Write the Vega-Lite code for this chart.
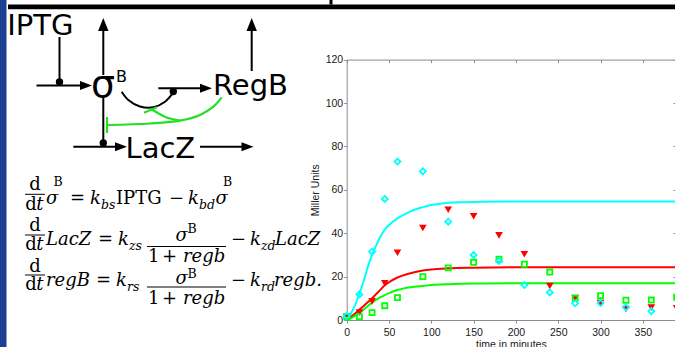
{
  "$schema": "https://vega.github.io/schema/vega-lite/v6.json",
  "width": 675,
  "height": 347,
  "autosize": {"type": "none"},
  "padding": 0,
  "background": "#ffffff",
  "config": {"view": {"stroke": null}, "axis": {"grid": false}},
  "datasets": {
    "curves": [
      {"series":"s1","t":0,"v":0},{"series":"s1","t":5,"v":3},{"series":"s1","t":10,"v":7},{"series":"s1","t":15,"v":12},{"series":"s1","t":20,"v":18},{"series":"s1","t":25,"v":24.5},{"series":"s1","t":30,"v":30},{"series":"s1","t":35,"v":34.5},{"series":"s1","t":40,"v":38.5},{"series":"s1","t":45,"v":41.7},{"series":"s1","t":50,"v":43.8},{"series":"s1","t":60,"v":46.8},{"series":"s1","t":70,"v":49},{"series":"s1","t":80,"v":50.8},{"series":"s1","t":90,"v":52},{"series":"s1","t":100,"v":53},{"series":"s1","t":110,"v":53.6},{"series":"s1","t":120,"v":54},{"series":"s1","t":140,"v":54.3},{"series":"s1","t":160,"v":54.5},{"series":"s1","t":200,"v":54.6},{"series":"s1","t":390,"v":54.6},
      {"series":"s2","t":0,"v":0},{"series":"s2","t":5,"v":1.4},{"series":"s2","t":10,"v":3},{"series":"s2","t":15,"v":4.8},{"series":"s2","t":20,"v":6.5},{"series":"s2","t":30,"v":10},{"series":"s2","t":40,"v":14},{"series":"s2","t":45,"v":16},{"series":"s2","t":50,"v":17.4},{"series":"s2","t":60,"v":19.6},{"series":"s2","t":70,"v":21},{"series":"s2","t":80,"v":22},{"series":"s2","t":90,"v":22.8},{"series":"s2","t":100,"v":23.3},{"series":"s2","t":120,"v":23.8},{"series":"s2","t":150,"v":24.1},{"series":"s2","t":200,"v":24.3},{"series":"s2","t":390,"v":24.3},
      {"series":"s3","t":0,"v":0},{"series":"s3","t":5,"v":0.8},{"series":"s3","t":10,"v":2},{"series":"s3","t":15,"v":3.3},{"series":"s3","t":20,"v":4.8},{"series":"s3","t":30,"v":8},{"series":"s3","t":40,"v":10.5},{"series":"s3","t":45,"v":11.5},{"series":"s3","t":50,"v":12.4},{"series":"s3","t":60,"v":13.8},{"series":"s3","t":70,"v":14.8},{"series":"s3","t":80,"v":15.3},{"series":"s3","t":90,"v":15.7},{"series":"s3","t":100,"v":16.1},{"series":"s3","t":120,"v":16.5},{"series":"s3","t":150,"v":16.8},{"series":"s3","t":200,"v":16.9},{"series":"s3","t":390,"v":16.9}
    ],
    "points": [
      {"series":"s1","t":0,"v":2},{"series":"s1","t":15,"v":11.8},{"series":"s1","t":30,"v":31.5},{"series":"s1","t":45,"v":55.8},{"series":"s1","t":60,"v":73},{"series":"s1","t":90,"v":68.5},{"series":"s1","t":120,"v":45.3},{"series":"s1","t":150,"v":30},{"series":"s1","t":180,"v":27.2},{"series":"s1","t":210,"v":16.1},{"series":"s1","t":240,"v":12.7},{"series":"s1","t":270,"v":7.7},{"series":"s1","t":300,"v":7.8},{"series":"s1","t":330,"v":5.8},{"series":"s1","t":360,"v":4.1},
      {"series":"s2","t":0,"v":1.5},{"series":"s2","t":15,"v":3.4},{"series":"s2","t":30,"v":8.6},{"series":"s2","t":45,"v":16.9},{"series":"s2","t":60,"v":31},{"series":"s2","t":90,"v":42.4},{"series":"s2","t":120,"v":50.8},{"series":"s2","t":150,"v":47.8},{"series":"s2","t":180,"v":39},{"series":"s2","t":210,"v":30.3},{"series":"s2","t":240,"v":15.7},{"series":"s2","t":270,"v":10.1},{"series":"s2","t":300,"v":7.8},{"series":"s2","t":330,"v":5.1},{"series":"s2","t":360,"v":5.7},{"series":"s2","t":390,"v":5.4},
      {"series":"s3","t":0,"v":1.5},{"series":"s3","t":15,"v":1.5},{"series":"s3","t":30,"v":3.4},{"series":"s3","t":45,"v":6.6},{"series":"s3","t":60,"v":10.3},{"series":"s3","t":90,"v":20},{"series":"s3","t":120,"v":24},{"series":"s3","t":150,"v":26.6},{"series":"s3","t":180,"v":28},{"series":"s3","t":210,"v":25.7},{"series":"s3","t":240,"v":22.1},{"series":"s3","t":270,"v":10.1},{"series":"s3","t":300,"v":11.2},{"series":"s3","t":330,"v":9.1},{"series":"s3","t":360,"v":9.2},{"series":"s3","t":390,"v":10.5}
    ],
    "decor_blue": [{"x":0,"x2":6.5,"y":0,"y2":347}],
    "decor_black": [{"x":8,"x2":675,"y":4.5,"y2":9.3},{"x":329.5,"x2":332.5,"y":0,"y2":4.5}],
    "links": [
      {"x":59.5,"y":37,"x2":59.5,"y2":82},
      {"x":36.5,"y":85.5,"x2":84,"y2":85.5},
      {"x":103.3,"y":75,"x2":103.3,"y2":28},
      {"x":103.3,"y":98,"x2":103.3,"y2":143},
      {"x":73.3,"y":146.7,"x2":118,"y2":146.7},
      {"x":200,"y":146.7,"x2":245,"y2":146.7},
      {"x":158.3,"y":88.3,"x2":203,"y2":88.3},
      {"x":251.7,"y":71,"x2":251.7,"y2":28}
    ],
    "heads_right": [{"x":92,"y":85.5},{"x":127,"y":146.7},{"x":253.5,"y":146.7},{"x":212,"y":88.3}],
    "heads_up": [{"x":103.3,"y":18},{"x":251.7,"y":18}],
    "dots": [{"x":59.5,"y":82},{"x":103.3,"y":143},{"x":173.3,"y":91.5}],
    "black_curve": [
      {"id":"c1","i":0,"x":121.7,"y":91.7},{"id":"c1","i":1,"x":128.3,"y":100},{"id":"c1","i":2,"x":140,"y":106.5},{"id":"c1","i":3,"x":153.3,"y":107.3},{"id":"c1","i":4,"x":165,"y":101.7},{"id":"c1","i":5,"x":173.3,"y":92.7}
    ],
    "green_curves": [
      {"id":"g1","i":0,"x":221.7,"y":97.3},{"id":"g1","i":1,"x":213.3,"y":106.7},{"id":"g1","i":2,"x":200,"y":115},{"id":"g1","i":3,"x":180,"y":120.7},{"id":"g1","i":4,"x":150,"y":123.5},{"id":"g1","i":5,"x":107,"y":125},
      {"id":"g2","i":0,"x":180,"y":120.7},{"id":"g2","i":1,"x":166.7,"y":117.5},{"id":"g2","i":2,"x":157,"y":112.5},{"id":"g2","i":3,"x":151,"y":109}
    ],
    "green_bars": [{"x":107,"y":117,"x2":107,"y2":133},{"x":144,"y":112.7,"x2":156.7,"y2":107.3}],
    "labels_sans": [{"x":7.2,"y":35,"text":"IPTG"},{"x":213,"y":95,"text":"RegB"},{"x":125.5,"y":158,"text":"LacZ"}],
    "labels_sigma": [{"x":91,"y":97,"text":"σ"}],
    "labels_sup_sans": [{"x":116,"y":82,"text":"B"}],
    "eq_roman": [
      {"text":"d","x":29.3,"y":190},{"text":"d","x":25.3,"y":210},{"text":"=","x":70,"y":204.3},{"text":"IPTG","x":116,"y":204.3},{"text":"−","x":169,"y":204.3},
      {"text":"d","x":29.3,"y":230.5},{"text":"d","x":25.3,"y":250},{"text":"=","x":98,"y":245},{"text":"1","x":148,"y":261.5},{"text":"+","x":162,"y":261.5},{"text":"−","x":231,"y":245},
      {"text":"d","x":29.3,"y":271.5},{"text":"d","x":25.3,"y":290},{"text":"=","x":96,"y":286},{"text":"1","x":148,"y":303.5},{"text":"+","x":162,"y":303.5},{"text":"−","x":231,"y":286}
    ],
    "eq_italic": [
      {"text":"t","x":36.3,"y":210},{"text":"σ","x":46,"y":204.3},{"text":"k","x":90,"y":204.3},{"text":"k","x":188,"y":204.3},{"text":"σ","x":215.5,"y":204.3},
      {"text":"t","x":36.3,"y":250},{"text":"LacZ","x":46,"y":245},{"text":"k","x":118,"y":245},{"text":"σ","x":175.4,"y":241},{"text":"regb","x":183,"y":261.5},{"text":"k","x":250,"y":245},{"text":"LacZ","x":275,"y":245},
      {"text":"t","x":36.3,"y":290},{"text":"regB","x":46,"y":286},{"text":"k","x":116,"y":286},{"text":"σ","x":175.4,"y":283.5},{"text":"regb","x":183,"y":303.5},{"text":"k","x":250,"y":286},{"text":"regb.","x":274,"y":286}
    ],
    "eq_sup": [{"text":"B","x":53.5,"y":186},{"text":"B","x":223,"y":186},{"text":"B","x":187.5,"y":233},{"text":"B","x":187.5,"y":278}],
    "eq_sub": [{"text":"bs","x":101,"y":208.5},{"text":"bd","x":199,"y":208.5},{"text":"zs","x":129,"y":249.5},{"text":"zd","x":261,"y":249.5},{"text":"rs","x":127,"y":290.5},{"text":"rd","x":261,"y":290.5}],
    "eq_bars": [{"x":25,"x2":45,"y":194.3,"y2":194.3},{"x":25,"x2":45,"y":235,"y2":235},{"x":147,"x2":226,"y":246.5,"y2":246.5},{"x":25,"x2":45,"y":275,"y2":275},{"x":147,"x2":226,"y":287,"y2":287}]
  },
  "layer": [
    {
      "layer": [
        {
          "data": {"name": "curves"},
          "mark": {"type": "line", "strokeWidth": 2, "interpolate": "monotone"},
          "encoding": {
            "x": {"field": "t", "type": "quantitative", "scale": {"domain": [0, 388], "range": [346.7, 675], "nice": false, "zero": false},
              "axis": {"orient": "bottom", "offset": -27, "values": [0,50,100,150,200,250,300,350], "tickSize": 3, "labelPadding": 4, "labelFont": "Liberation Sans", "labelFontSize": 10.5, "labelColor": "#1a1a1a", "domainColor": "#8c8c8c", "tickColor": "#8c8c8c", "labelFlush": false, "labelOverlap": false, "title": "time in minutes", "titleFont": "Liberation Sans", "titleFontSize": 10.5, "titleFontWeight": "normal", "titleColor": "#1a1a1a", "titlePadding": 2}},
            "y": {"field": "v", "type": "quantitative", "scale": {"domain": [0, 120], "range": [320, 59.6], "nice": false, "zero": false},
              "axis": {"orient": "left", "offset": -346.7, "values": [0,20,40,60,80,100,120], "tickSize": 3, "labelPadding": 1, "labelFont": "Liberation Sans", "labelFontSize": 10.5, "labelColor": "#1a1a1a", "domainColor": "#8c8c8c", "tickColor": "#8c8c8c", "labelFlush": false, "labelOverlap": false, "minExtent": 0, "title": "Miller Units", "titleFont": "Liberation Sans", "titleFontSize": 10.5, "titleFontWeight": "normal", "titleColor": "#1a1a1a", "titlePadding": 5}},
            "color": {"field": "series", "type": "nominal", "scale": {"domain": ["s1","s2","s3"], "range": ["#00ffff","#ff0000","#00ff00"]}, "legend": null}
          }
        },
        {
          "data": {"name": "points"},
          "transform": [{"filter": "datum.series === 's2'"}],
          "mark": {"type": "point", "shape": "triangle-down", "filled": true, "color": "#ff0000", "size": 58, "opacity": 1},
          "encoding": {
            "x": {"field": "t", "type": "quantitative", "scale": {"domain": [0, 388], "range": [346.7, 675], "nice": false, "zero": false}, "axis": null},
            "y": {"field": "v", "type": "quantitative", "scale": {"domain": [0, 120], "range": [320, 59.6], "nice": false, "zero": false}, "axis": null}
          }
        },
        {
          "data": {"name": "points"},
          "transform": [{"filter": "datum.series === 's3'"}],
          "mark": {"type": "point", "shape": "square", "filled": false, "color": "#00ff00", "strokeWidth": 1.8, "size": 26, "opacity": 1},
          "encoding": {
            "x": {"field": "t", "type": "quantitative", "scale": {"domain": [0, 388], "range": [346.7, 675], "nice": false, "zero": false}, "axis": null},
            "y": {"field": "v", "type": "quantitative", "scale": {"domain": [0, 120], "range": [320, 59.6], "nice": false, "zero": false}, "axis": null}
          }
        },
        {
          "data": {"name": "points"},
          "transform": [{"filter": "datum.series === 's1'"}],
          "mark": {"type": "point", "shape": "diamond", "filled": false, "color": "#00ffff", "strokeWidth": 1.8, "size": 36, "opacity": 1},
          "encoding": {
            "x": {"field": "t", "type": "quantitative", "scale": {"domain": [0, 388], "range": [346.7, 675], "nice": false, "zero": false},
              "axis": {"orient": "top", "offset": -59.6, "values": [0,50,100,150,200,250,300,350], "tickSize": -3, "labels": false, "title": null, "domainColor": "#8c8c8c", "tickColor": "#8c8c8c"}},
            "y": {"field": "v", "type": "quantitative", "scale": {"domain": [0, 120], "range": [320, 59.6], "nice": false, "zero": false},
              "axis": {"orient": "right", "offset": 1, "values": [0,20,40,60,80,100,120], "tickSize": -3, "labels": false, "title": null, "domain": false, "tickColor": "#8c8c8c"}}
          }
        }
      ],
      "resolve": {"axis": {"x": "independent", "y": "independent"}}
    },
    {
      "encoding": {
        "x": {"field": "x", "type": "quantitative", "scale": {"domain": [0, 675], "range": [0, 675], "nice": false, "zero": false}, "axis": null},
        "y": {"field": "y", "type": "quantitative", "scale": {"domain": [0, 347], "range": [0, 347], "nice": false, "zero": false}, "axis": null}
      },
      "layer": [
        {"data": {"name": "decor_blue"}, "mark": {"type": "rect", "color": "#1b3f91"}, "encoding": {"x2": {"field": "x2"}, "y2": {"field": "y2"}}},
        {"data": {"name": "decor_black"}, "mark": {"type": "rect", "color": "#000000"}, "encoding": {"x2": {"field": "x2"}, "y2": {"field": "y2"}}},
        {"data": {"name": "links"}, "mark": {"type": "rule", "color": "#000000", "strokeWidth": 2}, "encoding": {"x2": {"field": "x2"}, "y2": {"field": "y2"}}},
        {"data": {"name": "heads_right"}, "mark": {"type": "point", "shape": "M0,0 L-2,-0.75 L-2,0.75 Z", "filled": true, "color": "#000000", "size": 144, "opacity": 1, "strokeWidth": 0}, "encoding": {}},
        {"data": {"name": "heads_up"}, "mark": {"type": "point", "shape": "M0,0 L-0.8,2 L0.8,2 Z", "filled": true, "color": "#000000", "size": 169, "opacity": 1, "strokeWidth": 0}, "encoding": {}},
        {"data": {"name": "black_curve"}, "mark": {"type": "line", "color": "#000000", "strokeWidth": 2, "interpolate": "catmull-rom"}, "encoding": {"order": {"field": "i", "type": "quantitative"}, "detail": {"field": "id"}}},
        {"data": {"name": "dots"}, "mark": {"type": "point", "shape": "circle", "filled": true, "color": "#000000", "size": 55, "opacity": 1}, "encoding": {}},
        {"data": {"name": "green_curves"}, "mark": {"type": "line", "color": "#22e022", "strokeWidth": 2.2, "interpolate": "catmull-rom"}, "encoding": {"order": {"field": "i", "type": "quantitative"}, "detail": {"field": "id"}}},
        {"data": {"name": "green_bars"}, "mark": {"type": "rule", "color": "#22e022", "strokeWidth": 2.2}, "encoding": {"x2": {"field": "x2"}, "y2": {"field": "y2"}}},
        {"data": {"name": "labels_sans"}, "mark": {"type": "text", "align": "left", "baseline": "alphabetic", "font": "DejaVu Sans", "fontSize": 29, "color": "#000000"}, "encoding": {"text": {"field": "text"}}},
        {"data": {"name": "labels_sigma"}, "mark": {"type": "text", "align": "left", "baseline": "alphabetic", "font": "DejaVu Sans", "fontSize": 38, "color": "#000000"}, "encoding": {"text": {"field": "text"}}},
        {"data": {"name": "labels_sup_sans"}, "mark": {"type": "text", "align": "left", "baseline": "alphabetic", "font": "DejaVu Sans", "fontSize": 16, "color": "#000000"}, "encoding": {"text": {"field": "text"}}},
        {"data": {"name": "eq_bars"}, "mark": {"type": "rule", "color": "#000000", "strokeWidth": 1}, "encoding": {"x2": {"field": "x2"}, "y2": {"field": "y2"}}},
        {"data": {"name": "eq_roman"}, "mark": {"type": "text", "align": "left", "baseline": "alphabetic", "font": "DejaVu Serif", "fontSize": 18, "color": "#000000"}, "encoding": {"text": {"field": "text"}}},
        {"data": {"name": "eq_italic"}, "mark": {"type": "text", "align": "left", "baseline": "alphabetic", "font": "DejaVu Serif", "fontStyle": "italic", "fontSize": 18, "color": "#000000"}, "encoding": {"text": {"field": "text"}}},
        {"data": {"name": "eq_sup"}, "mark": {"type": "text", "align": "left", "baseline": "alphabetic", "font": "DejaVu Serif", "fontSize": 12.5, "color": "#000000"}, "encoding": {"text": {"field": "text"}}},
        {"data": {"name": "eq_sub"}, "mark": {"type": "text", "align": "left", "baseline": "alphabetic", "font": "DejaVu Serif", "fontStyle": "italic", "fontSize": 12.5, "color": "#000000"}, "encoding": {"text": {"field": "text"}}}
      ]
    }
  ],
  "resolve": {"scale": {"x": "independent", "y": "independent"}, "axis": {"x": "independent", "y": "independent"}}
}
